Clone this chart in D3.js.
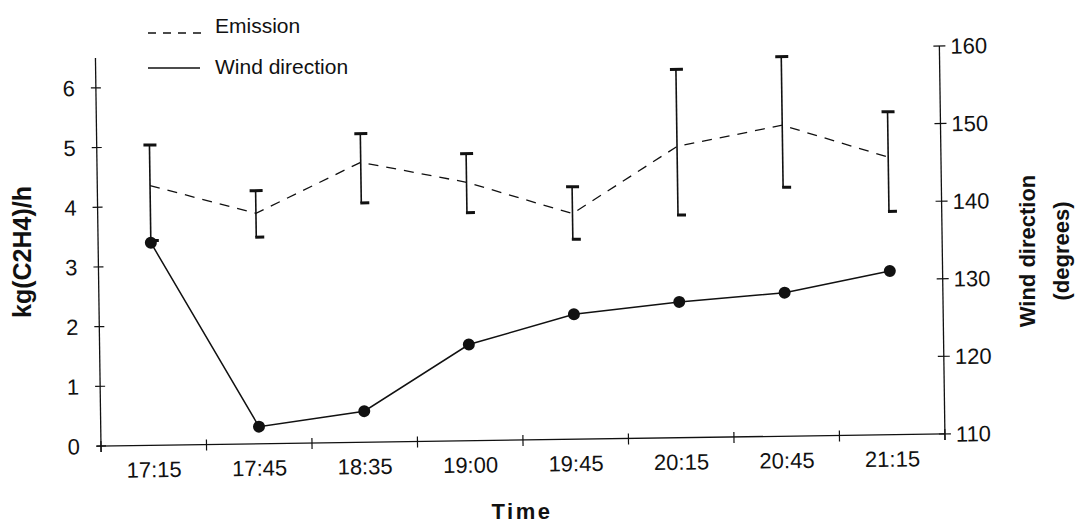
<!DOCTYPE html>
<html>
<head>
<meta charset="utf-8">
<script src="https://cdn.jsdelivr.net/npm/d3@7/dist/d3.min.js"></script>
<style>
  html, body { margin: 0; padding: 0; background: #fff; }
  svg { display: block; font-family: "Liberation Sans", Arial, sans-serif; }
</style>
</head>
<body>
<svg id="chart" width="1075" height="524"></svg>
<script>
// Sampling times
const times = ["17:15", "17:45", "18:35", "19:00", "19:45", "20:15", "20:45", "21:15"];
// Ethylene emission, kg(C2H4)/h, with lower / upper error bounds
const emission     = [4.35, 3.86, 4.69, 4.33, 3.78, 4.88, 5.21, 4.65];
const emissionLow  = [3.43, 3.46, 4.01, 3.82, 3.35, 3.73, 4.17, 3.74];
const emissionHigh = [5.03, 4.24, 5.17, 4.81, 4.23, 6.17, 6.36, 5.41];
// Wind direction, degrees
const windDir = [136.1, 112.2, 114.0, 122.4, 126.1, 127.5, 128.5, 131.1];
// Axis ticks
const leftTicks = [0, 1, 2, 3, 4, 5, 6];
const rightTicks = [110, 120, 130, 140, 150, 160];

const svg = d3.select("#chart");
const ink = "#111";

const plotLeft = 101, plotBottom = 446, plotW = 844, plotH = 388;
const plotRight = plotLeft + plotW, plotTop = plotBottom - plotH;

const x = d3.scaleBand().domain(times).range([plotLeft, plotRight]).padding(0);
const yL = d3.scaleLinear().domain([0, 6.5]).range([plotBottom, plotTop]);
const yR = d3.scaleLinear().domain([110, 160]).range([plotBottom, plotTop]);
const cx = t => x(t) + x.bandwidth() / 2;

// plot body, tilted slightly as on the printed page
const g = svg.append("g").attr("transform", `rotate(-0.82, ${plotLeft}, ${plotBottom})`);

// x axis with boundary ticks between categories
g.append("line").attr("x1", plotLeft - 4).attr("x2", plotRight).attr("y1", plotBottom).attr("y2", plotBottom)
  .attr("stroke", ink).attr("stroke-width", 1.3);
const bounds = times.map(t => x(t)).concat([plotRight]);
g.selectAll(".xt").data(bounds).join("line")
  .attr("x1", d => d).attr("x2", d => d)
  .attr("y1", plotBottom - 5).attr("y2", plotBottom + 6)
  .attr("stroke", ink).attr("stroke-width", 1.2);
g.selectAll(".xl").data(times).join("text")
  .attr("x", d => cx(d)).attr("y", plotBottom + 32)
  .attr("text-anchor", "middle").attr("font-size", 22).attr("fill", ink)
  .text(d => d);

// left axis
g.append("line").attr("x1", plotLeft).attr("x2", plotLeft).attr("y1", plotTop).attr("y2", plotBottom + 6)
  .attr("stroke", ink).attr("stroke-width", 1.3);
g.selectAll(".lt").data(leftTicks).join("line")
  .attr("x1", plotLeft - 5).attr("x2", plotLeft + 5)
  .attr("y1", d => yL(d)).attr("y2", d => yL(d))
  .attr("stroke", ink).attr("stroke-width", 1.2);
g.selectAll(".ll").data(leftTicks).join("text")
  .attr("x", plotLeft - 21).attr("y", d => yL(d)).attr("dy", "0.36em")
  .attr("text-anchor", "end").attr("font-size", 22).attr("fill", ink)
  .text(d => d);

// right axis
g.append("line").attr("x1", plotRight).attr("x2", plotRight).attr("y1", plotTop).attr("y2", plotBottom + 6)
  .attr("stroke", ink).attr("stroke-width", 1.3);
g.selectAll(".rt").data(rightTicks).join("line")
  .attr("x1", plotRight - 6).attr("x2", plotRight + 6)
  .attr("y1", d => yR(d)).attr("y2", d => yR(d))
  .attr("stroke", ink).attr("stroke-width", 1.2);
g.selectAll(".rl").data(rightTicks).join("text")
  .attr("x", plotRight + 11).attr("y", d => yR(d)).attr("dy", "0.36em")
  .attr("text-anchor", "start").attr("font-size", 22).attr("fill", ink)
  .text(d => d);

// emission: dashed line with error bars
const emPts = times.map((t, i) => [cx(t), yL(emission[i])]);
g.append("path").attr("d", d3.line()(emPts))
  .attr("fill", "none").attr("stroke", ink).attr("stroke-width", 1.3)
  .attr("stroke-dasharray", "10,8");
times.forEach((t, i) => {
  const xc = cx(t);
  g.append("line").attr("x1", xc).attr("x2", xc)
    .attr("y1", yL(emissionLow[i])).attr("y2", yL(emissionHigh[i]))
    .attr("stroke", ink).attr("stroke-width", 1.6);
  g.append("line").attr("x1", xc - 6).attr("x2", xc + 7)
    .attr("y1", yL(emissionHigh[i])).attr("y2", yL(emissionHigh[i]))
    .attr("stroke", ink).attr("stroke-width", 3);
  g.append("line").attr("x1", xc - 1).attr("x2", xc + 8)
    .attr("y1", yL(emissionLow[i])).attr("y2", yL(emissionLow[i]))
    .attr("stroke", ink).attr("stroke-width", 3);
});

// wind direction: solid line with filled markers
const wdPts = times.map((t, i) => [cx(t), yR(windDir[i])]);
g.append("path").attr("d", d3.line()(wdPts))
  .attr("fill", "none").attr("stroke", ink).attr("stroke-width", 1.5);
g.selectAll(".wd").data(wdPts).join("circle")
  .attr("cx", d => d[0]).attr("cy", d => d[1]).attr("r", 6)
  .attr("fill", ink);

// legend
svg.append("line").attr("x1", 148).attr("x2", 204).attr("y1", 33).attr("y2", 33)
  .attr("stroke", ink).attr("stroke-width", 1.3).attr("stroke-dasharray", "8,7");
svg.append("text").attr("x", 215).attr("y", 25).attr("dy", "0.36em")
  .attr("font-size", 21).attr("fill", ink).text("Emission");
svg.append("line").attr("x1", 148).attr("x2", 200).attr("y1", 68).attr("y2", 68)
  .attr("stroke", ink).attr("stroke-width", 1.3);
svg.append("text").attr("x", 215).attr("y", 66).attr("dy", "0.36em")
  .attr("font-size", 21).attr("fill", ink).text("Wind direction");

// axis titles
svg.append("text").attr("transform", "translate(31,252) rotate(-90)")
  .attr("text-anchor", "middle").attr("font-size", 25).attr("font-weight", "bold")
  .attr("fill", ink).text("kg(C2H4)/h");
svg.append("text").attr("x", 522).attr("y", 519)
  .attr("text-anchor", "middle").attr("font-size", 22).attr("font-weight", "bold")
  .attr("letter-spacing", 2.5).attr("fill", ink).text("Time");
const rt = svg.append("text").attr("transform", "translate(1035,251) rotate(-90)")
  .attr("text-anchor", "middle").attr("font-size", 22).attr("font-weight", "bold")
  .attr("fill", ink);
rt.append("tspan").attr("x", 0).attr("dy", 0).text("Wind direction");
rt.append("tspan").attr("x", 0).attr("dy", 34).text("(degrees)");
</script>
</body>
</html>
